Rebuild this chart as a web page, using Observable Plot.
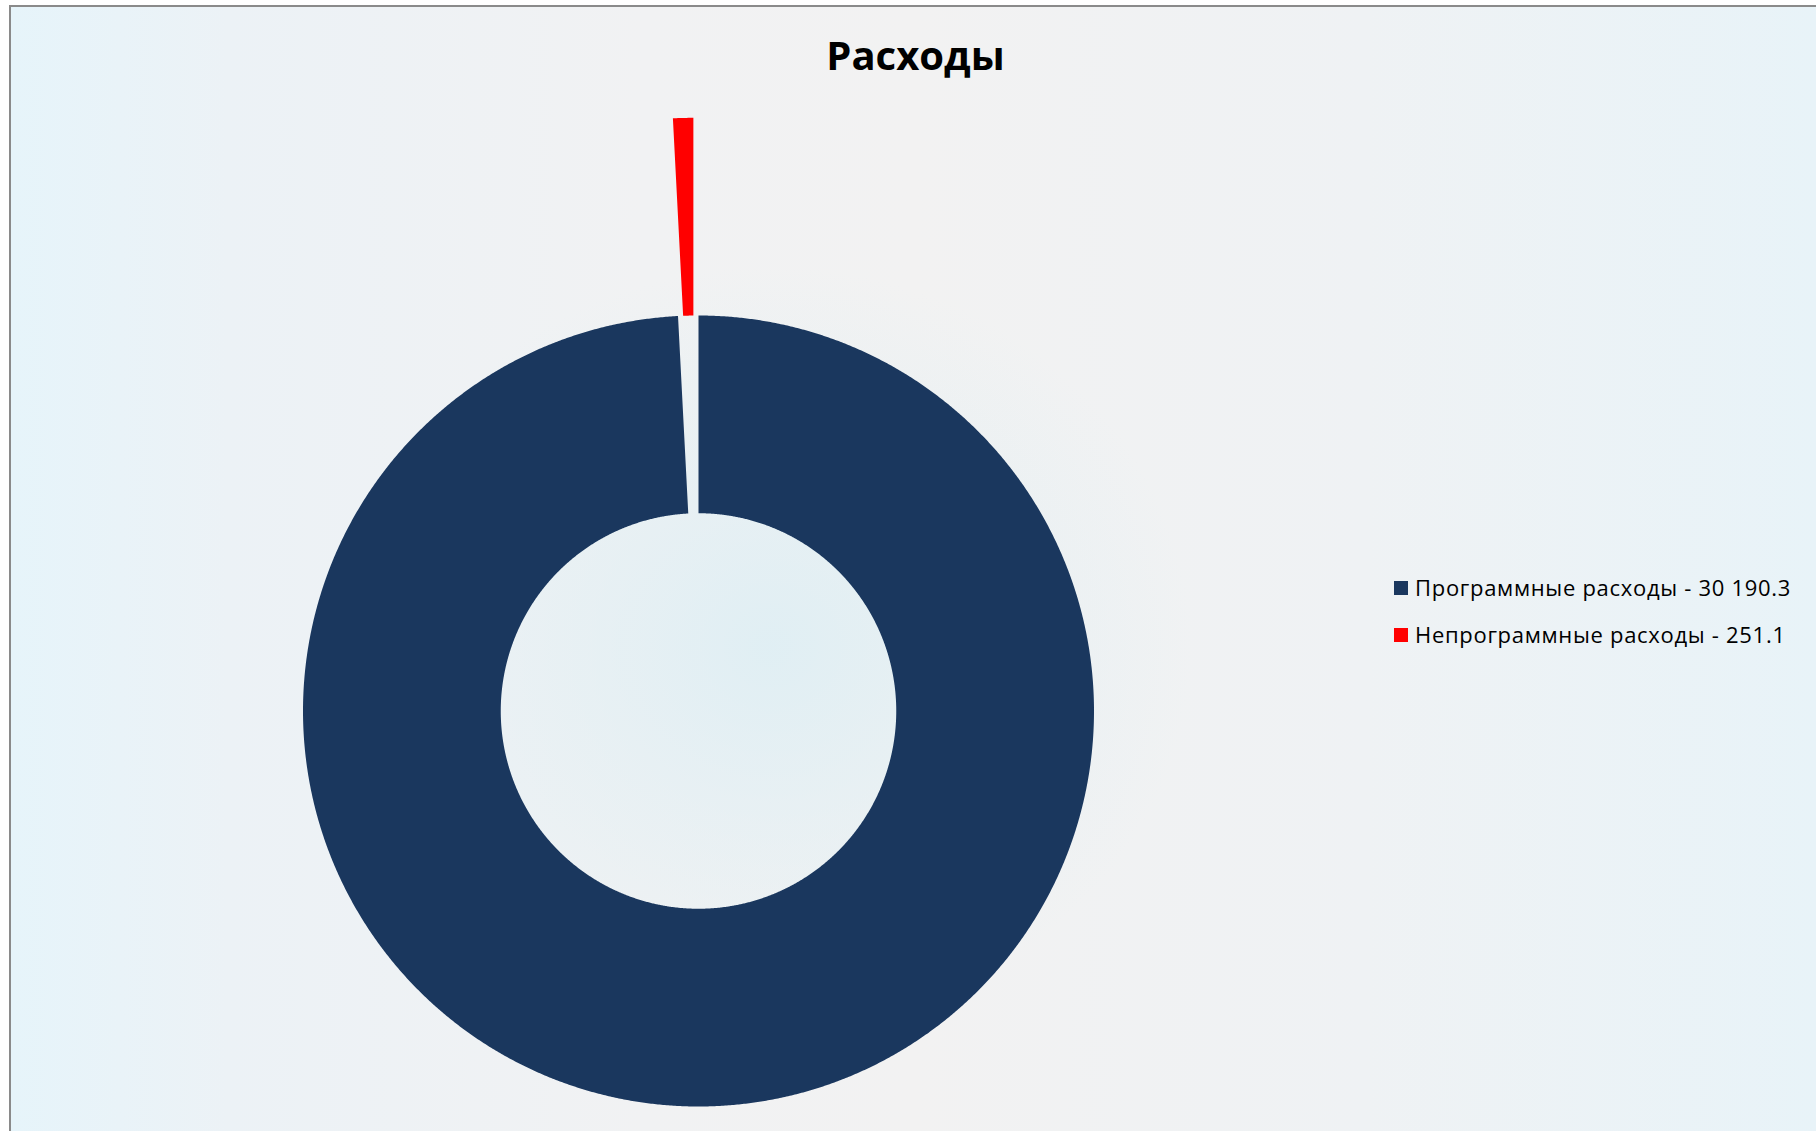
<!DOCTYPE html>
<html>
<head>
<meta charset="utf-8">
<script src="https://cdn.jsdelivr.net/npm/d3@7"></script>
<script src="https://cdn.jsdelivr.net/npm/@observablehq/plot@0.6"></script>
<style>
  html, body { margin: 0; padding: 0; width: 1816px; height: 1131px; overflow: hidden; background: #ffffff; }
  #frame {
    position: absolute; left: 9px; top: 5px; width: 1807px; height: 1126px;
    box-sizing: border-box;
    border-left: 2px solid #8a8a8a; border-top: 2px solid #8a8a8a;
    background:
      radial-gradient(ellipse 420px 380px at 760px 640px, rgba(221,238,244,0.85), rgba(221,238,244,0) 100%),
      linear-gradient(to right, #e6f4fa 0%, #ecf2f6 12%, #f1f2f3 35%, #f2f2f2 50%, #eff2f4 75%, #e8f3f8 100%);
    font-family: "Open Sans", "Noto Sans", sans-serif;
  }
  #title {
    position: absolute; left: 0; width: 1807px; top: 28px; text-align: center;
    font-size: 40px; font-weight: 700; color: #000; line-height: 1;
    padding-left: 2px; box-sizing: border-box;
  }
  #chart { position: absolute; left: 0; top: 86px; }
  #legend { position: absolute; left: 1383px; top: 556px; font-size: 22px; letter-spacing: 0.7px; color: #000; }
  .item { display: flex; align-items: center; height: 47.5px; white-space: nowrap; }
  .sw { width: 14px; height: 14px; margin-right: 7px; margin-top: 2px; }
</style>
</head>
<body>
<div id="frame">
  <div id="title">Расходы</div>
  <div id="chart"></div>
  <div id="legend"></div>
</div>
<script>
// Data
const categories = ["Программные расходы", "Непрограммные расходы"];
const values = [30190.3, 251.1];
const labels = ["30 190.3", "251.1"];
const colors = ["#1a375e", "#ff0000"];
const exploded = [0, 0.5];   // radial offset (in outer-radius units)

const innerR = 0.5;   // hole size relative to outer radius
const outerR = 1;

// Build slice geometry from the data with d3.pie (starts at 12 o'clock, clockwise)
const table = categories.map((name, i) => ({name, value: values[i], explode: exploded[i]}));
const arcs = d3.pie().sort(null).value(d => d.value)(table);

const pts = [];
for (const a of arcs) {
  const {name, explode} = a.data;
  const mid = (a.startAngle + a.endAngle) / 2;
  const ox = explode * Math.sin(mid), oy = explode * Math.cos(mid);
  const n = Math.max(2, Math.ceil((a.endAngle - a.startAngle) / (Math.PI / 720)));
  for (let k = 0; k <= n; k++) {
    const t = a.startAngle + (a.endAngle - a.startAngle) * k / n;
    pts.push({name, x: ox + outerR * Math.sin(t), y: oy + outerR * Math.cos(t)});
  }
  for (let k = n; k >= 0; k--) {
    const t = a.startAngle + (a.endAngle - a.startAngle) * k / n;
    pts.push({name, x: ox + innerR * Math.sin(t), y: oy + innerR * Math.cos(t)});
  }
}

const W = 1805, H = 1040;
const cx = 687, cy = 710.5 - 5 - 2 - 86, R = 395.5;

const plot = Plot.plot({
  width: W, height: H,
  margin: 0,
  style: {background: "transparent", overflow: "visible"},
  x: {domain: [-1, 1], range: [cx - R, cx + R], axis: null},
  y: {domain: [-1, 1], range: [cy + R, cy - R], axis: null},
  color: {domain: categories, range: colors},
  marks: [
    Plot.line(pts, {x: "x", y: "y", z: "name", fill: "name", stroke: null, curve: "linear-closed"})
  ]
});
document.getElementById("chart").appendChild(plot);

// Legend
const leg = document.getElementById("legend");
categories.forEach((c, i) => {
  const it = document.createElement("div");
  it.className = "item";
  const sw = document.createElement("div");
  sw.className = "sw";
  sw.style.background = colors[i];
  const tx = document.createElement("span");
  tx.textContent = `${c} - ${labels[i]}`;
  it.appendChild(sw); it.appendChild(tx);
  leg.appendChild(it);
});
</script>
</body>
</html>
